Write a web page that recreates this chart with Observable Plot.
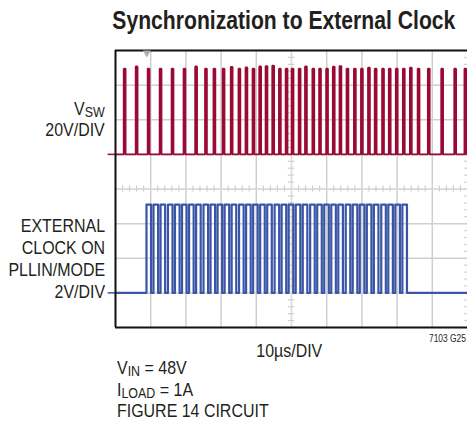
<!DOCTYPE html>
<html><head><meta charset="utf-8">
<script src="https://cdn.jsdelivr.net/npm/d3@7"></script>
<script src="https://cdn.jsdelivr.net/npm/@observablehq/plot@0.6"></script>
<style>
html,body{margin:0;padding:0;background:#fff;}
#wrap{position:relative;width:467px;height:421px;overflow:hidden;font-family:"Liberation Sans",Arial,sans-serif;color:#231f20;}
#wrap svg{position:absolute;left:0;top:0;}
.t{position:absolute;white-space:nowrap;line-height:1;}
sub{display:inline-block;font-size:0.78em;vertical-align:-0.16em;line-height:0.8em;height:0.8em;overflow:visible;}
</style></head><body>
<div id="wrap"></div>
<script>
// time axis: 10 us/DIV, 10 divisions (0..100 us); vertical: 8 divisions
const timeTicks = [10, 20, 30, 40, 50, 60, 70, 80, 90];
const divTicks = [1, 2, 3, 4, 5, 6, 7];
// VSW (20V/DIV, ground at division 5): switching pulse times (us) and peak volts
const vswTimes = [2.6, 6.0, 9.4, 12.8, 16.2, 19.6, 22.9, 25.7, 28.1, 30.7, 33.0, 35.2, 37.2, 39.2, 41.1, 42.9, 44.8, 46.7, 48.6, 50.3, 52.3, 54.1, 56.2, 58.1, 60.1, 62.0, 63.9, 65.9, 68.0, 70.0, 72.0, 73.9, 76.0, 77.9, 79.9, 81.9, 83.9, 86.1, 89.0, 92.8, 96.5, 99.4];
const vswPeaks = [49.5, 50.8, 49.5, 49.5, 49.5, 49.5, 50.8, 49.5, 49.5, 49.5, 50.5, 49.5, 50.2, 49.5, 50.8, 51.0, 51.2, 49.5, 49.5, 49.5, 49.5, 50.8, 49.5, 49.5, 49.5, 50.6, 51.0, 49.5, 49.5, 49.5, 50.0, 49.5, 49.5, 49.5, 49.5, 49.5, 50.0, 49.5, 49.5, 49.5, 49.5, 49.5];
const vswOnTime = 0.5;
// External clock on PLLIN/MODE (2V/DIV, ground at division 1): rising edges (us)
const clkRises = [8.8, 10.8, 12.8, 14.9, 16.9, 18.9, 20.9, 22.9, 25.0, 27.0, 29.0, 31.0, 33.0, 35.1, 37.1, 39.1, 41.1, 43.1, 45.2, 47.2, 49.2, 51.2, 53.2, 55.3, 57.3, 59.3, 61.3, 63.3, 65.4, 67.4, 69.4, 71.4, 73.4, 75.5, 77.5, 79.5, 81.5];
const clkHigh = 5.1;
const clkHighTime = 1.3;

const vswPts = [{t: 0, v: 0}];
vswTimes.forEach((t, i) => {
  const t0 = t - vswOnTime / 2, t1 = Math.min(t + vswOnTime / 2, 100);
  vswPts.push({t: t0, v: 0}, {t: t0, v: vswPeaks[i]}, {t: t1, v: vswPeaks[i]}, {t: t1, v: 0});
});
if (vswPts[vswPts.length - 1].t < 100) vswPts.push({t: 100, v: 0});

const clkPts = [{t: 0, v: 0}];
clkRises.forEach(t => {
  clkPts.push({t, v: 0}, {t, v: clkHigh}, {t: t + clkHighTime, v: clkHigh}, {t: t + clkHighTime, v: 0});
});
clkPts.push({t: 100, v: 0});

const minorT = d3.range(0, 100.01, 2).filter(t => t % 10 !== 0);
const minorD = d3.range(0, 8.01, 0.2).filter(d => Math.abs(d - Math.round(d)) > 1e-6);

const grid = "#cfcfcf";
const red = "#9b0a36";
const blue = "#3a54a6";

const chart = Plot.plot({
  width: 467, height: 421,
  marginLeft: 115, marginRight: 0, marginTop: 50, marginBottom: 94,
  x: {domain: [0, 100], axis: null},
  y: {domain: [0, 8], axis: null},
  marks: [
    Plot.ruleX(timeTicks, {stroke: grid, strokeWidth: 1.5}),
    Plot.ruleY(divTicks, {stroke: grid, strokeWidth: 1.5}),
    Plot.ruleX([50], {stroke: "#dedede", strokeWidth: 1}),
    Plot.ruleY([4], {stroke: "#dedede", strokeWidth: 1}),
    Plot.ruleX(minorT, {y1: 3.91, y2: 4.09, stroke: grid, strokeWidth: 1.2}),
    Plot.ruleY(minorD, {x1: 49.1, x2: 50.9, stroke: grid, strokeWidth: 1.2}),
    Plot.ruleY(minorD, {x1: 99.2, x2: 100, stroke: grid, strokeWidth: 1.2}),
    Plot.line(vswPts, {x: "t", y: d => 5 + d.v / 20, stroke: red, strokeWidth: 1.9, strokeLinejoin: "miter"}),
    Plot.line(clkPts, {x: "t", y: d => 1 + d.v / 2, stroke: blue, strokeWidth: 2.2, strokeLinejoin: "round", curve: "linear"}),
    Plot.ruleY([5], {x1: -2.1, x2: 0, stroke: red, strokeWidth: 1.5}),
    Plot.ruleY([1], {x1: -2.1, x2: 0, stroke: blue, strokeWidth: 1.5}),
    Plot.ruleY([8, 0], {stroke: "#111", strokeWidth: 2}),
    Plot.ruleX([0], {stroke: "#111", strokeWidth: 2}),
    Plot.dot([{t: 8.9, d: 7.93}], {x: "t", y: "d", symbol: "triangle", rotate: 180, r: 3, fill: "#b0b0b0", stroke: "none"})
  ]
});
const wrap = document.getElementById("wrap");
wrap.appendChild(chart);

// place a text block; anchor x at given pixel, scaled horizontally (condensed look)
function addText(html, {x, top, size, weight = "normal", align = "left", lh = 1, sx = 0.84, fitWidth = null}) {
  const d = document.createElement("div");
  d.className = "t";
  d.innerHTML = html;
  Object.assign(d.style, {top: top + "px", fontSize: size + "px", fontWeight: weight, textAlign: align, lineHeight: lh + "px", left: "0px"});
  wrap.appendChild(d);
  const w = d.getBoundingClientRect().width;
  const s = fitWidth ? fitWidth / w : sx;
  let left;
  if (align === "left") { left = x; d.style.transformOrigin = "left top"; }
  else if (align === "right") { left = x - w; d.style.transformOrigin = "right top"; }
  else { left = x - w / 2; d.style.transformOrigin = "center top"; }
  d.style.left = left + "px";
  d.style.transform = `scaleX(${s})`;
}
addText("Synchronization to External Clock", {x: 283.5, top: 7, size: 25, weight: "bold", align: "center", lh: 27, fitWidth: 343});
addText("V<sub>SW</sub><br>20V/DIV", {x: 105, top: 98, size: 19, align: "right", lh: 21});
addText("EXTERNAL<br>CLOCK ON<br>PLLIN/MODE<br>2V/DIV", {x: 105, top: 215, size: 19, align: "right", lh: 22});
addText("10µs/DIV", {x: 289, top: 340, size: 19, align: "center", lh: 21});
addText("7103 G25", {x: 466, top: 333, size: 10, align: "right", lh: 11});
addText("V<sub>IN</sub> = 48V<br>I<sub>LOAD</sub> = 1A<br>FIGURE 14 CIRCUIT", {x: 117, top: 357, size: 19, align: "left", lh: 21.5});
</script>
</body></html>
